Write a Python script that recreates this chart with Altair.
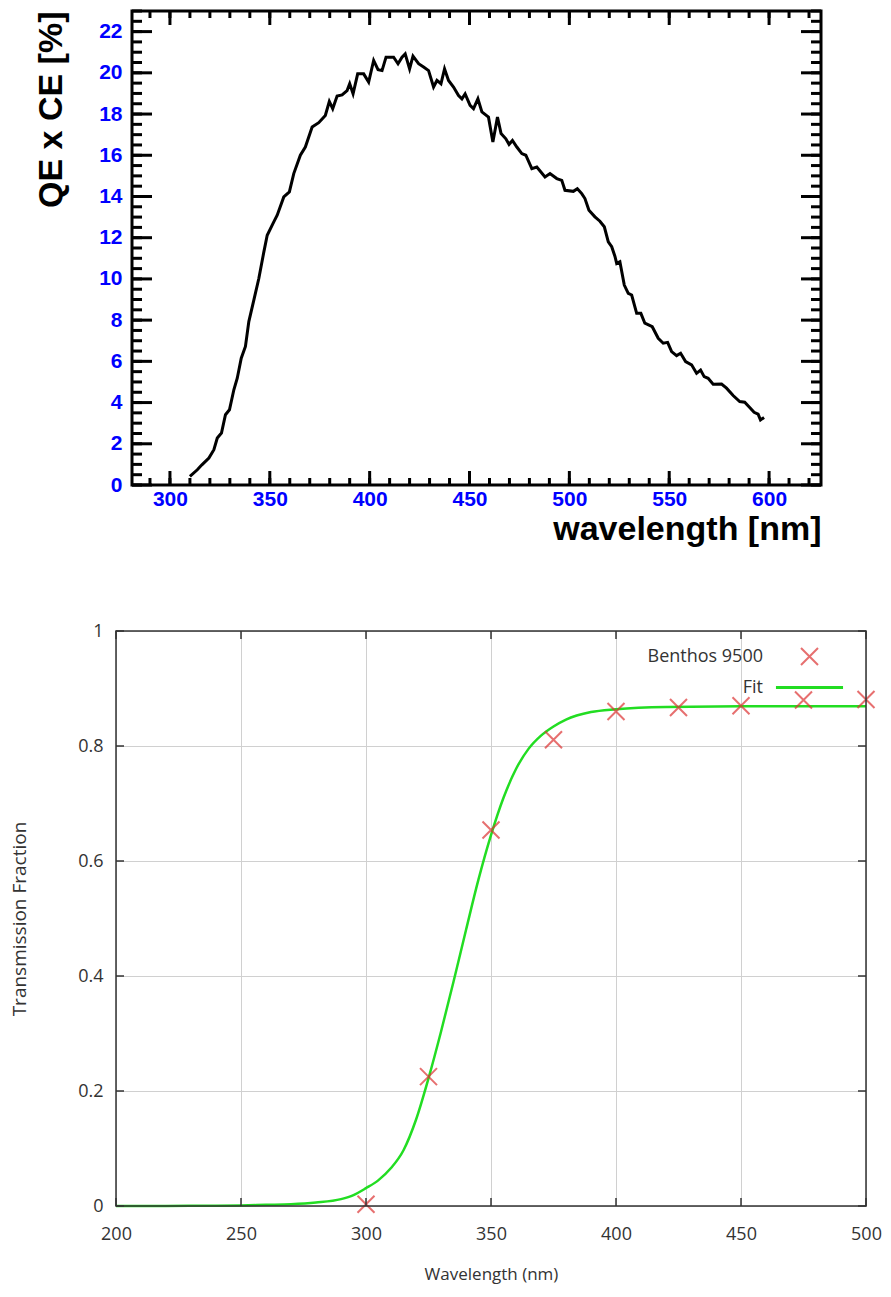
import altair as alt
import pandas as pd

# ---------------- Top chart data: QE x CE [%] vs wavelength ----------------
qe_wl = [310, 313.7, 316, 319.5, 322, 323.7, 325.8, 327.8, 329.8, 332, 333.7, 335.7,
         337.8, 339.5, 342, 344.5, 347, 348.7, 352, 353.7, 357, 359.8, 362, 365.3,
         367.8, 371.2, 374.5, 377.8, 379.8, 381.5, 383.7, 386.2, 388.7, 390, 391.7,
         394, 397, 399.5, 402, 404.2, 406.2, 408.2, 412, 414.2, 416.2, 417.8, 420,
         421.7, 424.5, 427, 429.5, 432, 433.7, 435.7, 437.5, 439.5, 442, 444.5, 446.2,
         447.8, 450.3, 452, 454.2, 456.2, 459.5, 461.7, 464, 465.8, 468.2, 469.8,
         471.5, 473.7, 476.2, 478.2, 481.2, 483.7, 487.8, 490.3, 493.7, 496.2, 497.8,
         502, 504, 506.2, 507.8, 509.8, 512.8, 515.3, 517.5, 519.5, 521.2, 522.8,
         523.7, 525.3, 527.5, 529.5, 531.2, 533.7, 535.8, 537.8, 541.5, 544.5, 547,
         549.2, 551.2, 553.7, 555.7, 558.2, 561.2, 563.7, 565.7, 567.5, 569.5, 572,
         576.2, 578.7, 582, 585.3, 587.8, 590.3, 592.5, 594.5, 595.7, 597.5]
qe_val = [0.42, 0.74, 0.98, 1.31, 1.71, 2.28, 2.52, 3.41, 3.65, 4.62, 5.18, 6.15,
          6.72, 7.93, 8.97, 10.02, 11.3, 12.12, 12.77, 13.09, 13.98, 14.22, 15.11, 16.0,
          16.4, 17.37, 17.58, 17.93, 18.61, 18.26, 18.87, 18.93, 19.14, 19.47, 18.98,
          19.95, 19.95, 19.55, 20.6, 20.15, 20.11, 20.76, 20.76, 20.44, 20.76, 20.92, 20.19,
          20.81, 20.44, 20.28, 20.11, 19.31, 19.63, 19.47, 20.19, 19.63, 19.31, 18.9, 18.74,
          18.98, 18.42, 18.26, 18.74, 18.1, 17.85, 16.64, 17.85, 17.05, 16.8, 16.53,
          16.72, 16.4, 16.08, 16.0, 15.35, 15.43, 14.95, 15.11, 14.87, 14.78, 14.3,
          14.25, 14.38, 14.14, 13.9, 13.33, 13.01, 12.8, 12.53, 11.8, 11.56, 11.1,
          10.75, 10.83, 9.7, 9.3, 9.22, 8.33, 8.33, 7.85, 7.68, 7.12, 6.88,
          6.92, 6.47, 6.28, 6.39, 5.99, 5.83, 5.42, 5.58, 5.26, 5.18, 4.89,
          4.9, 4.7, 4.34, 4.05, 4.02, 3.76, 3.53, 3.44, 3.16, 3.28]

top_x_major = [300, 350, 400, 450, 500, 550, 600]
top_x_minor = [290, 300, 310, 320, 330, 340, 350, 360, 370, 380, 390, 400, 410, 420,
               430, 440, 450, 460, 470, 480, 490, 500, 510, 520, 530, 540, 550, 560,
               570, 580, 590, 600, 610, 620]
top_y_major = [0, 2, 4, 6, 8, 10, 12, 14, 16, 18, 20, 22]
top_y_minor = [i * 0.5 for i in range(47)]

# ---------------- Bottom chart data: Benthos 9500 transmission ----------------
pts_wl = [300, 325, 350, 375, 400, 425, 450, 475, 500]
pts_val = [0.003, 0.225, 0.654, 0.811, 0.860, 0.867, 0.870, 0.880, 0.881]

fit_wl = [200, 220, 240, 250, 260, 270, 280, 290, 295, 300, 305, 310, 315, 320, 325,
          330, 335, 340, 345, 350, 355, 360, 365, 370, 375, 380, 390, 400, 420, 450, 500]
fit_val = [0.0, 0.0002, 0.0005, 0.001, 0.002, 0.003, 0.006, 0.012, 0.019, 0.031, 0.045,
           0.066, 0.097, 0.15, 0.222, 0.303, 0.39, 0.48, 0.568, 0.645, 0.71, 0.76, 0.795,
           0.818, 0.834, 0.846, 0.859, 0.864, 0.868, 0.869, 0.869]

bot_x_major = [200, 250, 300, 350, 400, 450, 500]
bot_y_major = [0, 0.2, 0.4, 0.6, 0.8, 1.0]

# ---------------- Top chart ----------------
W1, H1 = 705, 474
XL1 = 16  # inner left edge of the frame inside the group
X1_DOM = [281, 626]
Y1_DOM = [0, 23]
xs1 = alt.Scale(domain=X1_DOM, range=[XL1, W1], nice=False, zero=False)
ys1 = alt.Scale(domain=Y1_DOM, nice=False)

BLUE = "#0000ff"
F1 = "Liberation Sans"

xaxis1 = alt.Axis(
    values=top_x_major, ticks=False, domain=False, grid=False,
    labelFont=F1, labelFontWeight="bold", labelFontSize=21, labelColor=BLUE,
    labelPadding=3, labelFlush=False,
    title="wavelength [nm]", titleFont=F1, titleFontWeight="bold", titleFontSize=34,
    titleColor="black", titleAnchor="end", titlePadding=3)
yaxis1 = alt.Axis(
    values=top_y_major, ticks=False, domain=False, grid=False, offset=-XL1,
    labelFont=F1, labelFontWeight="bold", labelFontSize=21, labelColor=BLUE,
    labelPadding=10, labelFlush=False,
    title="QE x CE [%]", titleFont=F1, titleFontWeight="bold", titleFontSize=34,
    titleColor="black", titleAnchor="end", titlePadding=30)

df_qe = pd.DataFrame({"x": qe_wl, "y": qe_val})

curve = alt.Chart(df_qe).mark_line(color="black", strokeWidth=3).encode(
    x=alt.X("x:Q", scale=xs1, axis=xaxis1),
    y=alt.Y("y:Q", scale=ys1, axis=yaxis1),
)

one = pd.DataFrame({"a": [0]})


def frame(xdom, ydom, xs, ys, xa, ya, color, sw):
    return alt.Chart(one).mark_rect(fillOpacity=0, stroke=color, strokeWidth=sw).encode(
        x=alt.XDatum(xdom[0], scale=xs, axis=xa),
        x2=alt.X2Datum(xdom[1]),
        y=alt.YDatum(ydom[0], scale=ys, axis=ya),
        y2=alt.Y2Datum(ydom[1]),
    )


def vticks(vals, ypos, size, off, xs, ys, xa, ya, color, th):
    return alt.Chart(pd.DataFrame({"v": vals})).mark_tick(
        orient="vertical", size=size, thickness=th, color=color, yOffset=off, opacity=1
    ).encode(x=alt.X("v:Q", scale=xs, axis=xa), y=alt.YDatum(ypos, scale=ys, axis=ya))


def hticks(vals, xpos, size, off, xs, ys, xa, ya, color, th):
    return alt.Chart(pd.DataFrame({"v": vals})).mark_tick(
        orient="horizontal", size=size, thickness=th, color=color, xOffset=off, opacity=1
    ).encode(y=alt.Y("v:Q", scale=ys, axis=ya), x=alt.XDatum(xpos, scale=xs, axis=xa))


a1 = (xs1, ys1, xaxis1, yaxis1, "black", 3)
ticks1 = [
    vticks(top_x_minor, Y1_DOM[0], 7, -3.5, *a1),
    vticks(top_x_major, Y1_DOM[0], 14, -7, *a1),
    vticks(top_x_minor, Y1_DOM[1], 7, 3.5, *a1),
    vticks(top_x_major, Y1_DOM[1], 14, 7, *a1),
    hticks(top_y_minor, X1_DOM[0], 10, 5, *a1),
    hticks(top_y_major, X1_DOM[0], 20, 10, *a1),
    hticks(top_y_minor, X1_DOM[1], 10, -5, *a1),
    hticks(top_y_major, X1_DOM[1], 20, -10, *a1),
]
frame1 = frame(X1_DOM, Y1_DOM, *a1)

top = alt.layer(curve, *ticks1, frame1).properties(width=W1, height=H1)

# ---------------- Bottom chart ----------------
W2, H2 = 750, 575
X2_DOM = [200, 500]
Y2_DOM = [0, 1]
xs2 = alt.Scale(domain=X2_DOM, nice=False, zero=False)
ys2 = alt.Scale(domain=Y2_DOM, nice=False)
F2 = "Open Sans"
TXT = "#333333"
GREEN = "#22dd22"
RED = "#dd3333"
XPATH = "M-1,-1L1,1M-1,1L1,-1"

df_fit = pd.DataFrame({"x": fit_wl, "y": fit_val, "s": ["Fit"] * len(fit_wl)})
df_pts = pd.DataFrame({"x": pts_wl, "y": pts_val, "s": ["Benthos 9500"] * len(pts_wl)})

xaxis2 = alt.Axis(values=bot_x_major, ticks=False, domain=False, grid=True,
                  gridColor="#d0d0d0", gridWidth=1,
                  labelFont=F2, labelFontSize=18, labelColor=TXT, labelPadding=19,
                  labelFlush=False,
                  title="Wavelength (nm)", titleFont=F2, titleFontWeight="normal",
                  titleFontSize=17, titleColor=TXT, titlePadding=23)
yaxis2 = alt.Axis(values=bot_y_major, ticks=False, domain=False, grid=True,
                  gridColor="#d0d0d0", gridWidth=1, format="~g",
                  labelFont=F2, labelFontSize=18, labelColor=TXT, labelPadding=13,
                  labelFlush=False,
                  title="Transmission Fraction", titleFont=F2, titleFontWeight="normal",
                  titleFontSize=19, titleColor=TXT, titlePadding=48)

fit = alt.Chart(df_fit).mark_line(strokeWidth=2.5, interpolate="monotone").encode(
    x=alt.X("x:Q", scale=xs2, axis=xaxis2),
    y=alt.Y("y:Q", scale=ys2, axis=yaxis2),
    color=alt.Color("s:N", scale=alt.Scale(domain=["Fit"], range=[GREEN]),
                    legend=alt.Legend(orient="none", legendX=658, legendY=641, title=None,
                                      labelAlign="right", labelOffset={"expr": "-82"},
                                      symbolType="stroke", symbolSize=4500,
                                      symbolStrokeWidth=3, labelFont=F2,
                                      labelFontSize=18, labelColor=TXT, padding=0)),
)

pts = alt.Chart(df_pts).mark_point(size=289, strokeWidth=2, color=RED, filled=False).encode(
    x=alt.X("x:Q", scale=xs2, axis=xaxis2),
    y=alt.Y("y:Q", scale=ys2, axis=yaxis2),
    shape=alt.Shape("s:N", scale=alt.Scale(domain=["Benthos 9500"], range=[XPATH]),
                    legend=alt.Legend(orient="none", legendX=684, legendY=636, title=None,
                                      labelAlign="right", labelOffset={"expr": "-56"},
                                      symbolStrokeColor=RED, symbolFillColor="transparent",
                                      symbolStrokeWidth=2, symbolSize=289,
                                      labelFont=F2, labelFontSize=18, labelColor=TXT,
                                      padding=0)),
)

a2 = (xs2, ys2, xaxis2, yaxis2, "#333333", 1.5)
ticks2 = [
    vticks(bot_x_major, Y2_DOM[0], 8, -4, *a2),
    vticks(bot_x_major, Y2_DOM[1], 8, 4, *a2),
    hticks(bot_y_major, X2_DOM[0], 8, 4, *a2),
    hticks(bot_y_major, X2_DOM[1], 8, -4, *a2),
]
frame2 = frame(X2_DOM, Y2_DOM, *a2)

bottom = alt.layer(fit, pts, *ticks2, frame2).properties(width=W2, height=H2)

chart = alt.vconcat(top, bottom, spacing=76).properties(
    padding={"left": 2, "top": 1, "right": 0, "bottom": 3}
).configure_view(strokeWidth=0)

chart.save("out.html", embed_options={"renderer": "svg", "actions": False})
